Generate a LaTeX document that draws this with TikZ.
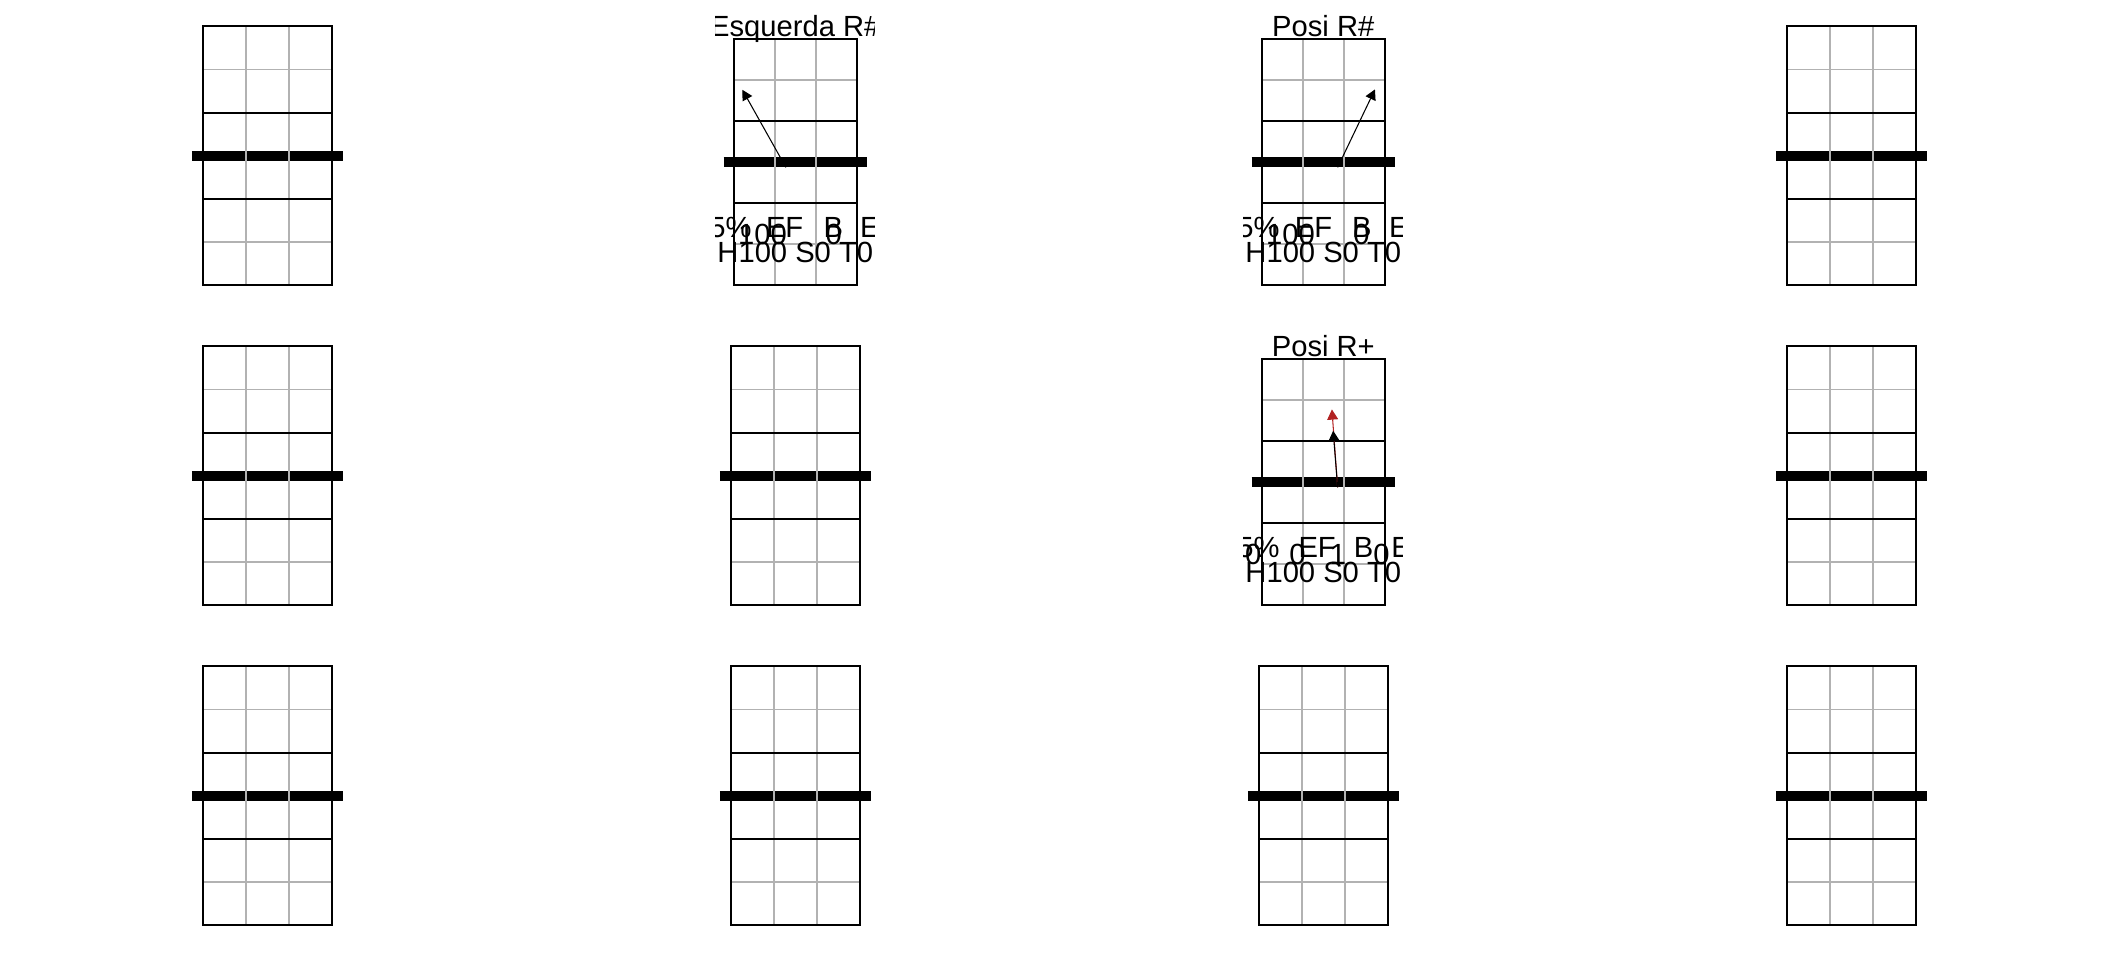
\documentclass[tikz,border=0pt]{standalone}
\usepackage{fontspec}
\setmainfont{Liberation Sans}
\usetikzlibrary{arrows.meta}
\definecolor{firebrick}{HTML}{B22222}

\begin{document}
\begin{tikzpicture}[
    fretlabel/.style={font=\fontsize{8.3}{9}\selectfont, inner sep=0pt, anchor=base},
    fretarrow/.style={-{Triangle[length=2.9pt, width=3.1pt]}, line width=0.3pt},
    panel/.pic={
        \draw[line width=2.85pt] (-1.75,3) -- (1.75,3);
        \draw[gray!60, line width=0.55pt] (-0.5,0) -- (-0.5,6) (0.5,0) -- (0.5,6) (-1.5,1) -- (1.5,1) (-1.5,5) -- (1.5,5);
        \draw[line width=0.55pt] (-1.5,0) rectangle (1.5,6) (-1.5,2) -- (1.5,2) (-1.5,4) -- (1.5,4);
    }
]
    \useasboundingbox (0,0) rectangle (21.12,9.6);

    % --- EMPTY PANELS ---
    \foreach \i/\j in {0/0, 3/0, 0/1, 1/1, 3/1, 0/2, 1/2, 2/2, 3/2} {
        \begin{scope}[shift={(5.28*\i+2.673, 6.75-3.2*\j)}, x=0.431cm, y=0.431cm]
            \pic {panel};
        \end{scope}
    }

    % --- ESQUERDA R# ---
    \begin{scope}[shift={(7.953, 6.75)}, x=0.41cm, y=0.41cm]
        \pic {panel};
        \coordinate (e1) at (-0.23, 2.87);
        \coordinate (e2) at (-1.29, 4.76);
        \draw[fretarrow] (e1) -- (e2);
        \begin{scope}
            \clip (-1.94,-0.5) rectangle (1.94,7);
            \node[fretlabel] (etitle) at (0, 6.07) {Esquerda R\#};
            \node[fretlabel, anchor=base east] (epct) at (-1.05, 1.16) {5\%};
            \node[fretlabel] (eef) at (-0.26, 1.16) {EF};
            \node[fretlabel] (eb) at (0.93, 1.16) {B};
            \node[fretlabel] (ee) at (1.82, 1.16) {E};
            \node[fretlabel] (ev1) at (-0.8, 1.0) {100};
            \node[fretlabel] (ev2) at (0.94, 1.0) {0};
            \node[fretlabel] (einfo) at (0, 0.55) {H100 S0 T0};
        \end{scope}
    \end{scope}

    % --- POSI R# ---
    \begin{scope}[shift={(13.233, 6.75)}, x=0.41cm, y=0.41cm]
        \pic {panel};
        \coordinate (p1) at (0.35, 2.87);
        \coordinate (p2) at (1.26, 4.77);
        \draw[fretarrow] (p1) -- (p2);
        \begin{scope}
            \clip (-1.94,-0.5) rectangle (1.94,7);
            \node[fretlabel] (ptitle) at (0, 6.05) {Posi R\#};
            \node[fretlabel, anchor=base east] (ppct) at (-1.05, 1.16) {5\%};
            \node[fretlabel] (pef) at (-0.24, 1.16) {EF};
            \node[fretlabel] (pb) at (0.94, 1.16) {B};
            \node[fretlabel] (pe) at (1.84, 1.16) {E};
            \node[fretlabel] (pv1) at (-0.8, 1.0) {100};
            \node[fretlabel] (pv2) at (0.93, 1.0) {0};
            \node[fretlabel] (pinfo) at (0, 0.55) {H100 S0 T0};
        \end{scope}
    \end{scope}

    % --- POSI R+ ---
    \begin{scope}[shift={(13.233, 3.55)}, x=0.41cm, y=0.41cm]
        \pic {panel};
        \coordinate (q1) at (0.35, 2.87);
        \coordinate (q2) at (0.24, 4.25);
        \coordinate (q3) at (0.21, 4.77);
        \draw[fretarrow, firebrick] (q1) -- (q3);
        \draw[fretarrow] (q1) -- (q2);
        \begin{scope}
            \clip (-1.94,-0.5) rectangle (1.94,7);
            \node[fretlabel] (qtitle) at (0, 6.05) {Posi R+};
            \node[fretlabel, anchor=base east] (qpct) at (-1.05, 1.16) {5\%};
            \node[fretlabel] (qef) at (-0.15, 1.16) {EF};
            \node[fretlabel] (qb) at (0.98, 1.16) {B};
            \node[fretlabel] (qe) at (1.9, 1.16) {E};
            \node[fretlabel] (qv1) at (-1.71, 1.0) {0};
            \node[fretlabel] (qv2) at (-0.63, 1.0) {0};
            \node[fretlabel] (qv3) at (0.36, 1.0) {1};
            \node[fretlabel] (qv4) at (1.42, 1.0) {0};
            \node[fretlabel] (qinfo) at (0, 0.55) {H100 S0 T0};
        \end{scope}
    \end{scope}
\end{tikzpicture}
\end{document}
